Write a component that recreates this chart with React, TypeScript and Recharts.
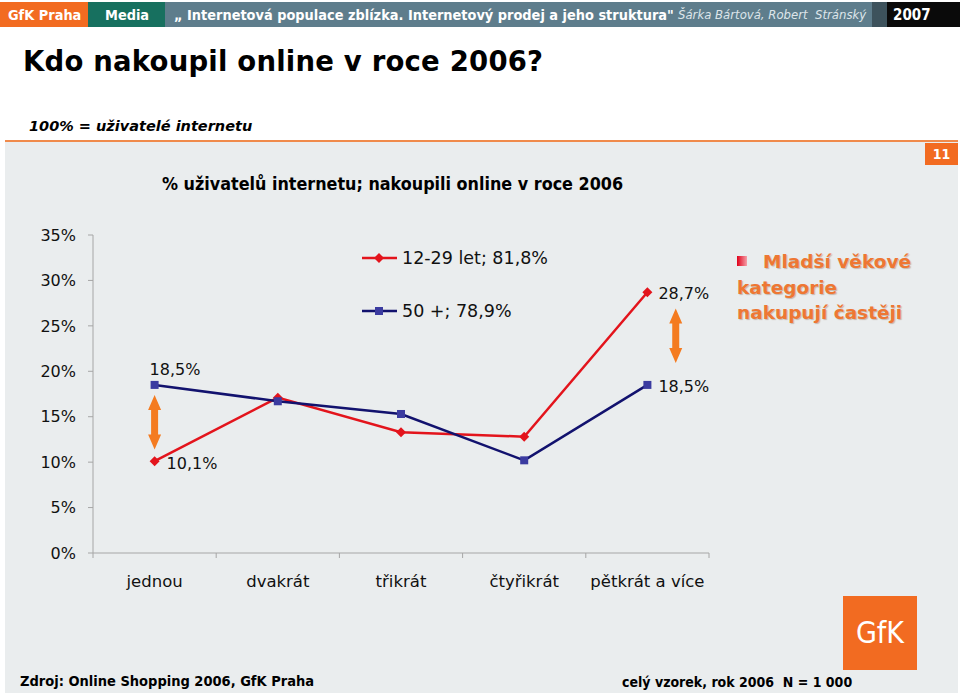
import React from 'react';
import { LineChart, Line, XAxis, YAxis, Legend, LabelList, ReferenceLine } from 'recharts';

// ---------- data ----------
const categories = ['jednou', 'dvakrát', 'třikrát', 'čtyřikrát', 'pětkrát a více'];
const youngValues = [10.1, 17.1, 13.3, 12.8, 28.7]; // 12-29 let
const olderValues = [18.5, 16.7, 15.3, 10.2, 18.5]; // 50 +
const seriesNames = ['12-29 let; 81,8%', '50 +; 78,9%'];
const yTicks = [0, 5, 10, 15, 20, 25, 30, 35];
const labelledIndexes = [0, 4];
const arrowSpans = [
  { pos: 0.5, from: 11.4, to: 17.4 },
  { pos: 4.73, from: 20.9, to: 26.9 },
];

const data = categories.map((name, i) => ({
  pos: i + 0.5,
  name,
  young: youngValues[i],
  older: olderValues[i],
}));
const xTicks = [...categories.flatMap((_, i) => [i, i + 0.5]), categories.length];

// ---------- styles ----------
const SANS = '"DejaVu Sans", Verdana, sans-serif';
const COND = '"DejaVu Sans Condensed", "DejaVu Sans", sans-serif';
const RED = '#E3141C';
const NAVY = '#12126E';
const BLUE_MARK = '#3B3BA0';
const AXIS = '#A6A6A6';
const ORANGE = '#F47B20';

const fmt = (v: number) => v.toFixed(1).replace('.', ',') + '%';

const Diamond = (p: any) => {
  const { cx, cy } = p;
  if (cx == null || cy == null) return null;
  const r = 5;
  return <path d={`M${cx},${cy - r}L${cx + r},${cy}L${cx},${cy + r}L${cx - r},${cy}Z`} fill={RED} />;
};
const Square = (p: any) => {
  const { cx, cy } = p;
  if (cx == null || cy == null) return null;
  const s = 8;
  return <rect x={cx - s / 2} y={cy - s / 2} width={s} height={s} fill={BLUE_MARK} />;
};

const XTick = (p: any) => {
  const { x, y, payload } = p;
  const v = payload.value;
  if (Number.isInteger(v)) {
    return <line x1={x} x2={x} y1={y} y2={y + 5} stroke={AXIS} />;
  }
  const label = categories[Math.floor(v)];
  return (
    <text x={x} y={y + 28} dy="0.36em" textAnchor="middle" fontSize={16.5} fontFamily={SANS} fill="#111">
      {label}
    </text>
  );
};

const makeLabel = (series: 'young' | 'older') => (p: any) => {
  const { x, y, value, index } = p;
  if (!labelledIndexes.includes(index)) return null;
  let tx = x + 11;
  let ty = y + 1;
  if (series === 'older' && index === 0) {
    tx = x - 5;
    ty = y - 16;
  }
  if (series === 'young' && index === 0) {
    tx = x + 12;
    ty = y + 2;
  }
  return (
    <text x={tx} y={ty} dy="0.36em" fontSize={16} fontFamily={SANS} fill="#111">
      {fmt(value)}
    </text>
  );
};

const ArrowShape = (p: any) => {
  const { x1, y1, y2 } = p;
  if (x1 == null) return null;
  const x = x1;
  const top = Math.min(y1, y2);
  const bot = Math.max(y1, y2);
  const hl = 15, hw = 6.5, sw = 3.5;
  const pts = [
    [x, top], [x + hw, top + hl], [x + sw, top + hl], [x + sw, bot - hl], [x + hw, bot - hl], [x, bot],
    [x - hw, bot - hl], [x - sw, bot - hl], [x - sw, top + hl], [x - hw, top + hl],
  ].map((q) => q.join(',')).join(' ');
  return <polygon points={pts} fill={ORANGE} />;
};

const LegendContent = (props: any) => {
  const payload = props.payload || [];
  return (
    <div>
      {payload.map((e: any, i: number) => (
        <div key={i} style={{ display: 'flex', alignItems: 'center', height: 26, marginBottom: i === 0 ? 27 : 0 }}>
          <svg width={36} height={12} style={{ display: 'block' }}>
            <line x1={0} x2={35} y1={6} y2={6} stroke={e.color} strokeWidth={2.5} />
            {e.dataKey === 'young' ? (
              <path d="M17,1L22,6L17,11L12,6Z" fill={RED} />
            ) : (
              <rect x={13} y={2} width={8} height={8} fill={BLUE_MARK} />
            )}
          </svg>
          <span style={{ marginLeft: 4, fontSize: 17.5, fontFamily: SANS, color: '#111', whiteSpace: 'nowrap' }}>{e.value}</span>
        </div>
      ))}
    </div>
  );
};

const Txt = ({ x, cy, size, children, style }: any) => (
  <div
    style={{
      position: 'absolute',
      left: x,
      top: cy - size,
      height: size * 2,
      lineHeight: `${size * 2}px`,
      fontSize: size,
      whiteSpace: 'nowrap',
      ...style,
    }}
  >
    {children}
  </div>
);

export default function App() {
  return (
    <div style={{ position: 'absolute', left: 0, top: 0, width: 960, height: 696, background: '#fff', overflow: 'hidden', fontFamily: SANS }}>
      {/* header bar */}
      <div style={{ position: 'absolute', left: 0, top: 2, width: 88, height: 25, background: '#F26B21' }} />
      <div style={{ position: 'absolute', left: 88, top: 2, width: 77, height: 25, background: '#17705F' }} />
      <div style={{ position: 'absolute', left: 165, top: 2, width: 707, height: 25, background: '#5E7D8C' }} />
      <div style={{ position: 'absolute', left: 872, top: 2, width: 15, height: 25, background: '#3D525C' }} />
      <div style={{ position: 'absolute', left: 887, top: 2, width: 73, height: 25, background: '#0A0A0A' }} />
      <Txt x={8} cy={15} size={14.4} style={{ color: '#fff', fontWeight: 'bold', fontFamily: COND }}>GfK Praha</Txt>
      <Txt x={105} cy={15} size={14.4} style={{ color: '#fff', fontWeight: 'bold', fontFamily: COND }}>Media</Txt>
      <Txt x={174} cy={15} size={14.4} style={{ color: '#fff', fontWeight: 'bold', fontFamily: COND }}>
        „ Internetová populace zblízka. Internetový prodej a jeho struktura"
      </Txt>
      <Txt x={678} cy={15} size={13} style={{ color: '#DDE5EA', fontStyle: 'italic', fontFamily: COND }}>
        Šárka Bártová, Robert&nbsp; Stránský
      </Txt>
      <Txt x={893} cy={15} size={15} style={{ color: '#fff', fontWeight: 'bold', fontFamily: COND }}>2007</Txt>

      {/* title */}
      <Txt x={23} cy={61} size={27.5} style={{ color: '#000', fontWeight: 'bold', letterSpacing: 0.2 }}>
        Kdo nakoupil online v roce 2006?
      </Txt>
      <Txt x={29} cy={126} size={14.5} style={{ color: '#000', fontWeight: 'bold', fontStyle: 'italic' }}>
        100% = uživatelé internetu
      </Txt>

      {/* panel */}
      <div style={{ position: 'absolute', left: 5, top: 140, width: 953, height: 553, background: '#EAEDEE', borderTop: '2px solid #F08A4B', boxSizing: 'border-box' }} />
      <div style={{ position: 'absolute', left: 925, top: 143, width: 33, height: 22, background: '#F26B21', color: '#fff', fontWeight: 'bold', fontSize: 14, lineHeight: '22px', textAlign: 'center', fontFamily: COND }}>11</div>
      <Txt x={162} cy={184} size={17.8} style={{ color: '#000', fontWeight: 'bold', fontFamily: COND }}>
        % uživatelů internetu; nakoupili online v roce 2006
      </Txt>

      {/* chart */}
      <div style={{ position: 'absolute', left: 0, top: 0 }}>
        <LineChart width={960} height={696} data={data} margin={{ top: 235, right: 251, bottom: 103, left: 33 }}>
          <XAxis
            dataKey="pos"
            type="number"
            domain={[0, categories.length]}
            ticks={xTicks}
            interval={0}
            tickLine={false}
            tickSize={0}
            tickMargin={0}
            axisLine={{ stroke: AXIS }}
            height={40}
            tick={<XTick />}
          />
          <YAxis
            type="number"
            domain={[0, 35]}
            ticks={yTicks}
            interval={0}
            width={60}
            tickSize={5}
            tickMargin={12}
            axisLine={{ stroke: AXIS }}
            tickLine={{ stroke: AXIS }}
            tickFormatter={(v: number) => `${v}%`}
            tick={{ fontSize: 16, fontFamily: SANS, fill: '#111' }}
          />
          <Legend
            layout="vertical"
            align="center"
            verticalAlign="middle"
            content={<LegendContent />}
            wrapperStyle={{ position: 'absolute', left: 362, top: 245, width: 'auto', height: 'auto' }}
          />
          {arrowSpans.map((a, i) => (
            <ReferenceLine
              key={i}
              segment={[{ x: a.pos, y: a.from }, { x: a.pos, y: a.to }]}
              stroke={ORANGE}
              ifOverflow="visible"
              shape={ArrowShape}
            />
          ))}
          <Line
            type="linear"
            dataKey="young"
            name={seriesNames[0]}
            stroke={RED}
            strokeWidth={2.5}
            dot={Diamond}
            activeDot={false}
            isAnimationActive={false}
          >
            <LabelList dataKey="young" content={makeLabel('young')} />
          </Line>
          <Line
            type="linear"
            dataKey="older"
            name={seriesNames[1]}
            stroke={NAVY}
            strokeWidth={2.5}
            dot={Square}
            activeDot={false}
            isAnimationActive={false}
          >
            <LabelList dataKey="older" content={makeLabel('older')} />
          </Line>
        </LineChart>
      </div>

      {/* annotation */}
      <div style={{ position: 'absolute', left: 737, top: 256, width: 10, height: 10, background: 'linear-gradient(to right, #E0001A, #F5A0A8)' }} />
      <div style={{ position: 'absolute', left: 737, top: 249, fontSize: 18.5, lineHeight: '25.7px', fontWeight: 'bold', color: '#EE7733', textShadow: '1px 1px 1px rgba(120,60,20,0.3)', whiteSpace: 'nowrap' }}>
        <div style={{ paddingLeft: 26 }}>Mladší věkové</div>
        <div>kategorie</div>
        <div>nakupují častěji</div>
      </div>

      {/* logo */}
      <div style={{ position: 'absolute', left: 843, top: 596, width: 74, height: 74, background: '#F26B21', color: '#fff', fontSize: 30, lineHeight: '74px', textAlign: 'center', fontFamily: COND }}>GfK</div>

      {/* footer */}
      <Txt x={20} cy={681} size={14.5} style={{ color: '#000', fontWeight: 'bold', fontFamily: COND }}>
        Zdroj: Online Shopping 2006, GfK Praha
      </Txt>
      <Txt x={622} cy={682} size={14} style={{ color: '#000', fontWeight: 'bold', fontFamily: COND }}>
        celý vzorek, rok 2006&nbsp; N = 1 000
      </Txt>
    </div>
  );
}
